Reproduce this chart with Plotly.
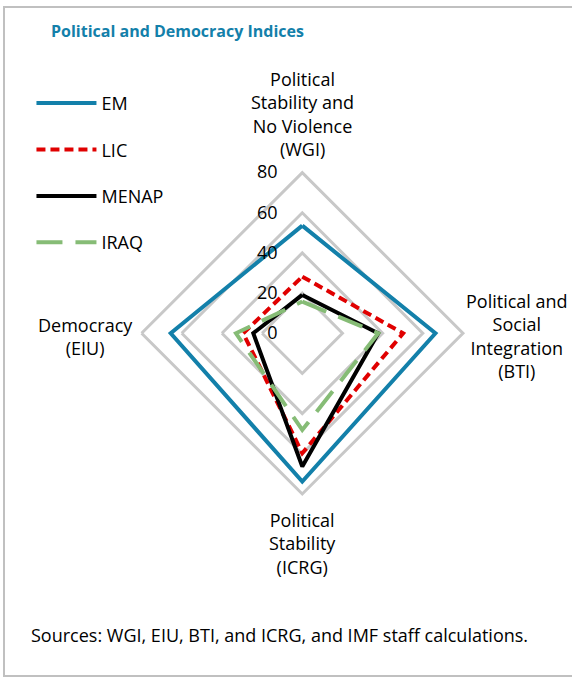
import plotly.graph_objects as go

# axes (clockwise from top)
categories = [
    "Political Stability and No Violence (WGI)",
    "Political and Social Integration (BTI)",
    "Political Stability (ICRG)",
    "Democracy (EIU)",
]
axis_labels = [
    "Political<br>Stability and<br>No Violence<br>(WGI)",
    "Political and<br>Social<br>Integration<br>(BTI)",
    "Political<br>Stability<br>(ICRG)",
    "Democracy<br>(EIU)",
]

em = [53.6, 66.3, 73.8, 65.5]
lic = [28.2, 50.2, 59.7, 29.4]
menap = [19.1, 37.8, 66.3, 24.4]
iraq = [15.8, 37.8, 48.1, 33.0]

radial_ticks = [0, 20, 40, 60, 80]

FONT = "Open Sans"
series = [
    ("EM", em, dict(color="#1380AA", width=4)),
    ("LIC", lic, dict(color="#E00000", width=4, dash="9px,5px")),
    ("MENAP", menap, dict(color="#000000", width=4)),
    ("IRAQ", iraq, dict(color="#86BC76", width=4, dash="26px,13px")),
]

fig = go.Figure()
for i, (name, vals, line) in enumerate(series):
    fig.add_trace(go.Scatterpolar(
        r=vals + vals[:1],
        theta=categories + categories[:1],
        mode="lines",
        name=name,
        line=line,
        legendgroup=str(i),
    ))

fig.update_layout(
    width=572,
    height=679,
    margin=dict(l=0, r=0, t=0, b=0),
    paper_bgcolor="white",
    font=dict(family=FONT, size=18, color="#000000"),
    showlegend=True,
    legend=dict(
        x=0.055, y=0.875, xanchor="left", yanchor="top",
        traceorder="grouped", tracegroupgap=20,
        itemwidth=60, font=dict(size=18),
        bgcolor="rgba(0,0,0,0)",
    ),
    polar=dict(
        domain=dict(x=[0.2475, 0.8094], y=[0.2725, 0.7458]),
        gridshape="linear",
        bgcolor="white",
        radialaxis=dict(
            range=[0, 80],
            tickvals=radial_ticks,
            angle=90,
            tickangle=90,
            side="counterclockwise",
            showline=False,
            ticks="outside",
            ticklen=18,
            tickcolor="rgba(0,0,0,0)",
            gridcolor="#C8C8C8",
            gridwidth=3,
            tickfont=dict(size=18),
        ),
        angularaxis=dict(
            categoryorder="array",
            categoryarray=categories,
            rotation=90,
            direction="clockwise",
            showgrid=False,
            showticklabels=False,
            ticks="",
            linecolor="#C8C8C8",
            linewidth=3,
        ),
    ),
)

# axis labels around the radar
label_pos = [(302, 163, "center", "bottom"), (517, 336, "center", "middle"),
             (302, 506, "center", "top"), (85, 336, "center", "middle")]
for text, (px, py, xa, ya) in zip(axis_labels, label_pos):
    fig.add_annotation(
        x=px / 572, y=1 - py / 679, xref="paper", yref="paper",
        text=text, showarrow=False, xanchor=xa, yanchor=ya,
        font=dict(size=18), align="center",
    )

fig.add_annotation(
    x=49 / 572, y=1 - 31 / 679, xref="paper", yref="paper",
    text="<b>Political and Democracy Indices</b>", showarrow=False,
    xanchor="left", yanchor="middle",
    font=dict(size=16, color="#1380AA"),
)
fig.add_annotation(
    x=29 / 572, y=1 - 635 / 679, xref="paper", yref="paper",
    text="Sources: WGI, EIU, BTI, and ICRG, and IMF staff calculations.",
    showarrow=False, xanchor="left", yanchor="middle",
    font=dict(size=18),
)

# frame
fig.add_shape(
    type="rect", xref="paper", yref="paper",
    x0=4 / 572, x1=1.05, y0=1 - 676 / 679, y1=1 - 7 / 679,
    line=dict(color="#C0C0C0", width=2),
)

fig.write_html(
    "out.html",
    config={"displayModeBar": False},
    post_script="document.body.style.margin='0';",
)
